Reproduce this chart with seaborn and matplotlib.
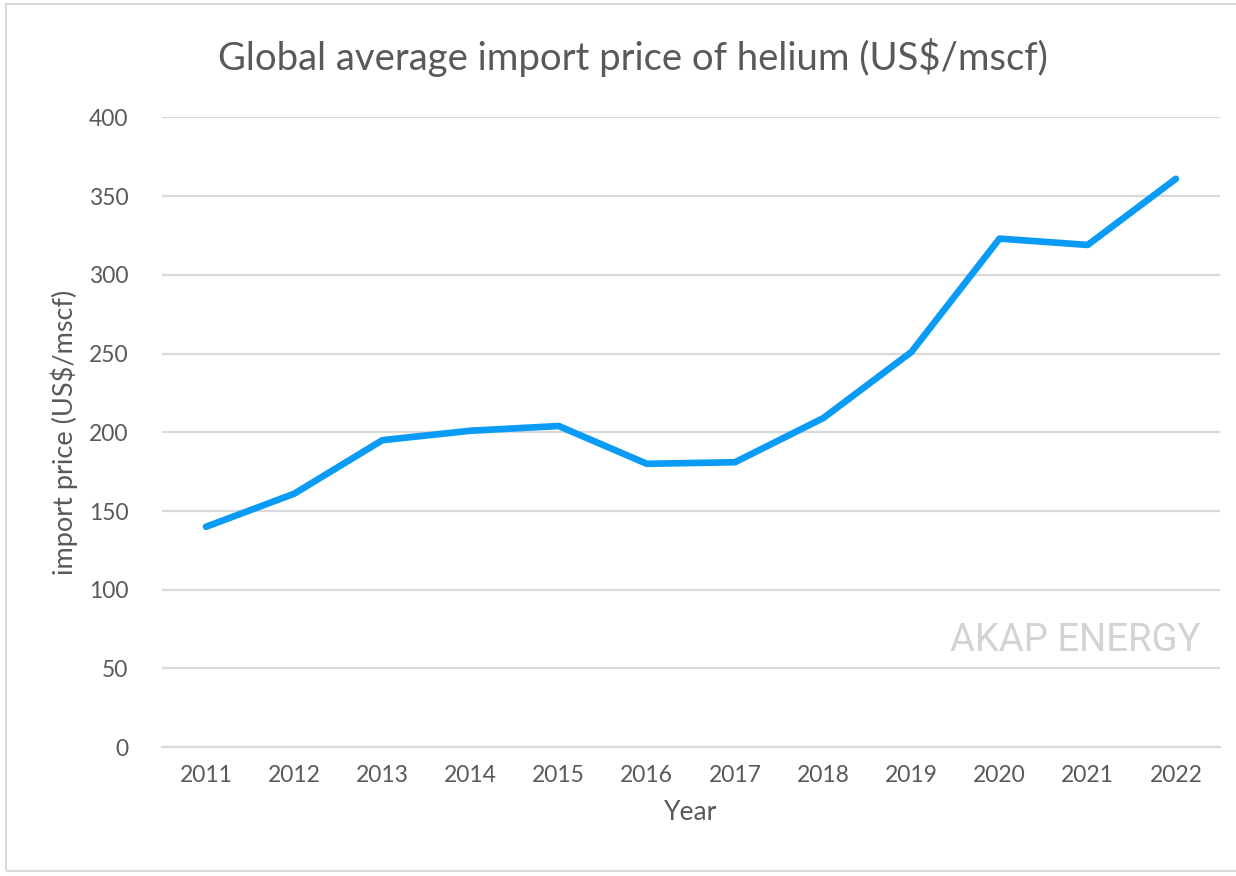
import matplotlib
matplotlib.use("Agg")
import matplotlib.pyplot as plt
import seaborn as sns
import pandas as pd
from matplotlib.patches import Rectangle

# Chart data
years = [2011, 2012, 2013, 2014, 2015, 2016, 2017, 2018, 2019, 2020, 2021, 2022]
prices = [140, 161, 195, 201, 204, 180, 181, 209, 251, 323, 319, 361]
y_ticks = [0, 50, 100, 150, 200, 250, 300, 350, 400]

TEXT = "#595959"
GRID = "#D9D9D9"
LINE = "#0A9BF7"


def plot_data(df):
    sns.set_theme(style="white")
    plt.rcParams['font.family'] = ['Lato', 'DejaVu Sans']

    fig = plt.figure(figsize=(12.36, 8.76), dpi=100)
    ax = fig.add_axes([0.131, 0.147, 0.856, 0.719])

    sns.lineplot(data=df, x="Year", y="Price", ax=ax, color=LINE,
                 linewidth=4.8, solid_capstyle="round", solid_joinstyle="round",
                 zorder=3)

    ax.set_xlim(years[0] - 0.5, years[-1] + 0.5)
    ax.set_ylim(0, 400)
    ax.set_xticks(years)
    ax.set_xticklabels([str(y) for y in years])
    ax.set_yticks(y_ticks)
    ax.yaxis.grid(True, color=GRID, linewidth=1.6)
    ax.xaxis.grid(False)
    for s in ["top", "right", "left"]:
        ax.spines[s].set_visible(False)
    ax.spines["bottom"].set_color(GRID)
    ax.spines["bottom"].set_linewidth(1.6)
    ax.tick_params(axis="both", length=0, labelsize=16.5, labelcolor=TEXT)
    ax.tick_params(axis="x", pad=13)
    ax.tick_params(axis="y", pad=24)

    ax.set_xlabel("Year", fontsize=19, color=TEXT, labelpad=10)
    ax.set_ylabel("import price (US$/mscf)", fontsize=19.5, color=TEXT, labelpad=8)

    fig.text(0.512, 0.934, "Global average import price of helium (US$/mscf)",
             ha="center", va="center", fontsize=27.5, color=TEXT)

    # watermark
    ax.text(0.982, 0.17, "AKAP ENERGY", transform=ax.transAxes, ha="right",
            va="center", fontsize=27.5, color="#D3D3D3",
            family=["Roboto", "DejaVu Sans"])

    # outer chart border
    fig.patches.append(Rectangle((0.005, 0.006), 1.2, 0.989, transform=fig.transFigure,
                                 fill=False, edgecolor="#D9D9D9", linewidth=1.5))

    plt.savefig("out.png", dpi=100)


def main():
    df = pd.DataFrame({"Year": years, "Price": prices})
    plot_data(df)


if __name__ == "__main__":
    main()
